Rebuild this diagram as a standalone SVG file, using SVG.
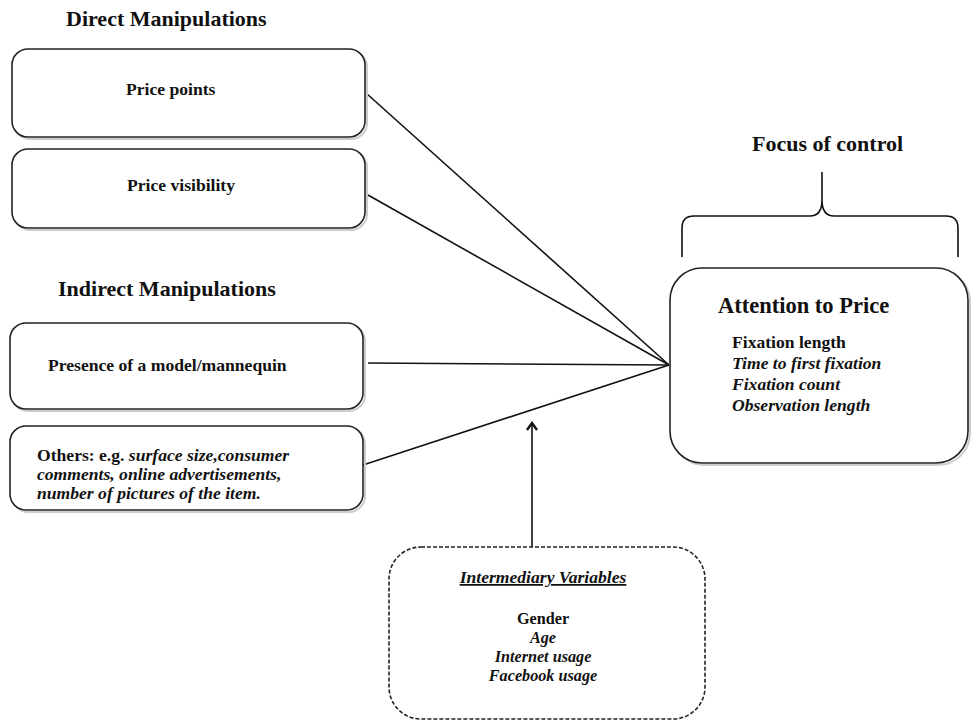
<svg xmlns="http://www.w3.org/2000/svg" width="974" height="723" viewBox="0 0 974 723">
<style>
text{font-family:"Liberation Serif","Times New Roman",serif;font-weight:bold;fill:#111}
.h{font-size:22px}
.t{font-size:17.6px}
.v{font-size:16.2px}
.i{font-style:italic}
.box{fill:#fff;stroke:#222;stroke-width:1.6}
.sh{fill:none;stroke:#ccc;stroke-width:2}
.ln{stroke:#111;stroke-width:1.6;fill:none}
</style>
<defs>
<marker id="ah" viewBox="0 0 12 12" refX="10" refY="6" markerWidth="12" markerHeight="12" markerUnits="userSpaceOnUse" orient="auto">
<path d="M3,1 L10,6 L3,11" fill="none" stroke="#111" stroke-width="2.4"/>
</marker>
</defs>
<rect width="974" height="723" fill="#fff"/>
<text class="h" x="66" y="26">Direct Manipulations</text>
<text class="h" x="58" y="296">Indirect Manipulations</text>
<text class="h" x="752" y="151">Focus of control</text>

<g id="connectors">
<line class="ln" x1="366" y1="93" x2="669" y2="365"/>
<line class="ln" x1="368" y1="195" x2="669" y2="365"/>
<line class="ln" x1="368" y1="363" x2="669" y2="365"/>
<line class="ln" x1="363" y1="465" x2="669" y2="365"/>
<line class="ln" x1="532" y1="547" x2="532" y2="423" marker-end="url(#ah)"/>
<path class="ln" d="M682,257 L682,228 Q682,216 694,216 L810,216 Q822,216 822,200 L822,172 M822,172 L822,200 Q822,216 834,216 L946,216 Q958,216 958,228 L958,257"/>
</g>

<g id="price-points">
<rect class="sh" x="14" y="51" width="353" height="88" rx="16"/>
<rect class="box" x="12" y="49" width="353" height="88" rx="16"/>
<text class="t" x="126" y="95">Price points</text>
</g>
<g id="price-visibility">
<rect class="sh" x="14" y="151" width="353" height="79" rx="16"/>
<rect class="box" x="12" y="149" width="353" height="79" rx="16"/>
<text class="t" x="127" y="191">Price visibility</text>
</g>
<g id="presence-model">
<rect class="sh" x="12" y="325" width="353" height="86" rx="16"/>
<rect class="box" x="10" y="323" width="353" height="86" rx="16"/>
<text class="t" x="48" y="371">Presence of a model/mannequin</text>
</g>
<g id="others">
<rect class="sh" x="12" y="428" width="353" height="84" rx="16"/>
<rect class="box" x="10" y="426" width="353" height="84" rx="16"/>
<text class="t" x="37" y="461">Others: e.g. <tspan class="i">surface size,consumer</tspan></text>
<text class="t i" x="37" y="480">comments, online advertisements,</text>
<text class="t i" x="37" y="499">number of pictures of the item.</text>
</g>
<g id="attention-to-price">
<rect class="sh" x="672" y="270" width="298" height="195" rx="32"/>
<rect class="box" x="670" y="268" width="298" height="195" rx="32"/>
<text x="718" y="313" style="font-size:22.5px">Attention to Price</text>
<text class="t" x="732" y="348">Fixation length</text>
<text class="t i" x="732" y="369">Time to first fixation</text>
<text class="t i" x="732" y="390">Fixation count</text>
<text class="t i" x="732" y="411">Observation length</text>
</g>
<g id="intermediary-variables">
<rect x="389" y="547" width="316" height="172" rx="32" fill="#fff" stroke="#222" stroke-width="1.6" stroke-dasharray="4,2"/>
<text class="t i" x="543" y="583" text-anchor="middle" text-decoration="underline">Intermediary Variables</text>
<text class="v" x="543" y="624" text-anchor="middle">Gender</text>
<text class="v i" x="543" y="643" text-anchor="middle">Age</text>
<text class="v i" x="543" y="662" text-anchor="middle">Internet usage</text>
<text class="v i" x="543" y="681" text-anchor="middle">Facebook usage</text>
</g>
</svg>
